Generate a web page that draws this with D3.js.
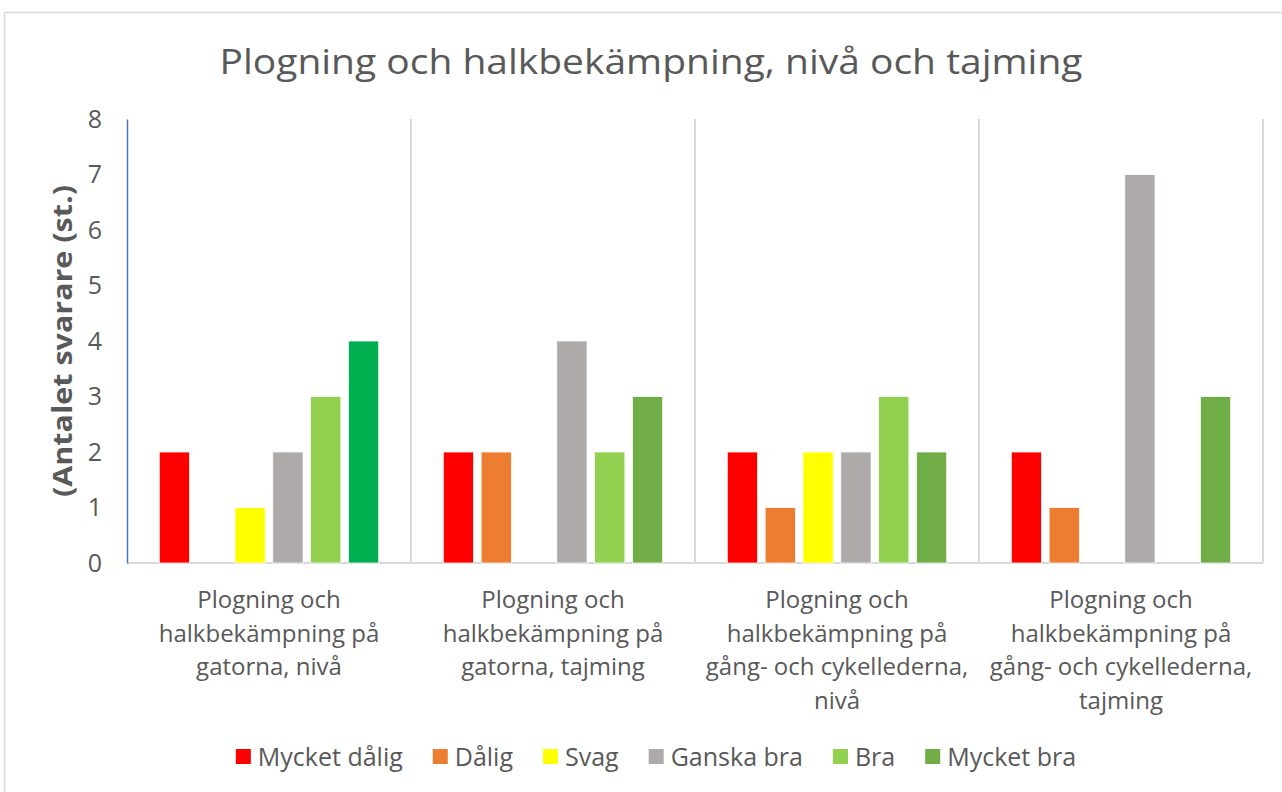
<!DOCTYPE html>
<html>
<head>
<meta charset="utf-8">
<script src="https://cdn.jsdelivr.net/npm/d3@7"></script>
<style>
  body { margin: 0; background: #fff; }
  svg text { font-family: "Open Sans", "Noto Sans", sans-serif; fill: #595959; }
</style>
</head>
<body>
<div id="chart"></div>
<script>
// Data
const categories = [
    ['Plogning och', 'halkbekämpning på', 'gatorna, nivå'],
    ['Plogning och', 'halkbekämpning på', 'gatorna, tajming'],
    ['Plogning och', 'halkbekämpning på', 'gång- och cykellederna,', 'nivå'],
    ['Plogning och', 'halkbekämpning på', 'gång- och cykellederna,', 'tajming']
];
const seriesNames = ['Mycket dålig', 'Dålig', 'Svag', 'Ganska bra', 'Bra', 'Mycket bra'];
const mycketDalig = [2, 2, 2, 2];
const dalig = [0, 2, 1, 1];
const svag = [1, 0, 2, 0];
const ganskaBra = [2, 4, 2, 7];
const bra = [3, 2, 3, 0];
const mycketBra = [4, 3, 2, 3];
const seriesValues = [mycketDalig, dalig, svag, ganskaBra, bra, mycketBra];
const seriesColors = ['#FF0000', '#ED7D31', '#FFFF00', '#AEAAAA', '#92D050', '#70AD47'];
// the first "Mycket bra" bar has its own colour in the original
const pointColors = { '5-0': '#00B050' };
const yTicks = [0, 1, 2, 3, 4, 5, 6, 7, 8];

const W = 1282, H = 792;
const margin = { top: 119, right: 19, bottom: 229, left: 127 };
const width = W - margin.left - margin.right;
const height = H - margin.top - margin.bottom;

const root = d3.select('#chart').append('svg')
    .attr('width', W)
    .attr('height', H);

// Chart border
root.append('rect')
    .attr('x', 4.5).attr('y', 12.5)
    .attr('width', W + 20).attr('height', H + 20)
    .attr('fill', 'none')
    .attr('stroke', '#d9d9d9')
    .attr('stroke-width', 1.5);

// Title
root.append('text')
    .attr('x', 651)
    .attr('y', 74)
    .attr('text-anchor', 'middle')
    .attr('textLength', 863)
    .attr('lengthAdjust', 'spacingAndGlyphs')
    .style('font-size', '35px')
    .text('Plogning och halkbekämpning, nivå och tajming');

const svg = root.append('g')
    .attr('transform', `translate(${margin.left},${margin.top})`);

// Scales
const x0 = d3.scaleBand()
    .domain(d3.range(categories.length))
    .range([0, width]);

const x1 = d3.scaleBand()
    .domain(d3.range(seriesNames.length))
    .range([28.5, x0.bandwidth() - 28.5])
    .paddingInner(0.2)
    .paddingOuter(0.1);

const y = d3.scaleLinear()
    .domain([0, 8])
    .range([height, 0]);

// Vertical category separators
svg.append('g')
    .selectAll('line')
    .data(d3.range(1, categories.length + 1))
    .enter()
    .append('line')
    .attr('x1', d => x0.step() * d)
    .attr('x2', d => x0.step() * d)
    .attr('y1', 0)
    .attr('y2', height)
    .attr('stroke', '#d9d9d9')
    .attr('stroke-width', 2);

// Bottom axis line
svg.append('line')
    .attr('x1', 0).attr('x2', width)
    .attr('y1', height).attr('y2', height)
    .attr('stroke', '#d9d9d9')
    .attr('stroke-width', 2);

// Bars
seriesNames.forEach((name, si) => {
    svg.append('g')
        .selectAll('rect')
        .data(seriesValues[si].map((v, ci) => ({ v, ci })).filter(d => d.v > 0))
        .enter()
        .append('rect')
        .attr('x', d => x0(d.ci) + x1(si))
        .attr('y', d => y(d.v))
        .attr('width', x1.bandwidth())
        .attr('height', d => y(0) - y(d.v))
        .attr('fill', d => pointColors[`${si}-${d.ci}`] || seriesColors[si])
        .attr('stroke', '#fff')
        .attr('stroke-width', 0.75);
});

// Y axis
const yAxis = svg.append('g')
    .call(d3.axisLeft(y).tickValues(yTicks).tickSize(0).tickPadding(25));
yAxis.select('.domain')
    .attr('stroke', '#4472C4')
    .attr('stroke-width', 1.5);
yAxis.selectAll('text')
    .style('font-size', '25px')
    .style('fill', '#595959')
    .style('font-family', '"Open Sans", sans-serif');

// Y axis label
svg.append('text')
    .attr('transform', 'rotate(-90)')
    .attr('x', -height / 2)
    .attr('y', -55)
    .attr('text-anchor', 'middle')
    .attr('textLength', 312)
    .attr('lengthAdjust', 'spacingAndGlyphs')
    .style('font-size', '26px')
    .style('font-weight', 'bold')
    .text('(Antalet svarare (st.)');

// Category labels
categories.forEach((lines, ci) => {
    const t = svg.append('text')
        .attr('text-anchor', 'middle')
        .attr('x', x0(ci) + x0.bandwidth() / 2)
        .attr('y', height + 45)
        .style('font-size', '24px');
    lines.forEach((ln, li) => {
        t.append('tspan')
            .attr('x', x0(ci) + x0.bandwidth() / 2)
            .attr('dy', li === 0 ? 0 : 33.5)
            .text(ln);
    });
});

// Legend
const legend = root.append('g');
let lx = 0;
seriesNames.forEach((name, i) => {
    const g = legend.append('g');
    g.append('rect')
        .attr('x', 0).attr('y', -8)
        .attr('width', 15).attr('height', 15)
        .attr('fill', seriesColors[i]);
    const txt = g.append('text')
        .attr('x', 22)
        .attr('y', 8.5)
        .style('font-size', '25px')
        .text(name);
    const w = 22 + txt.node().getComputedTextLength();
    g.attr('transform', `translate(${lx},0)`);
    lx += w + 30;
});
const legendWidth = lx - 30;
legend.attr('transform', `translate(${656 - legendWidth / 2}, 757)`);
</script>
</body>
</html>
